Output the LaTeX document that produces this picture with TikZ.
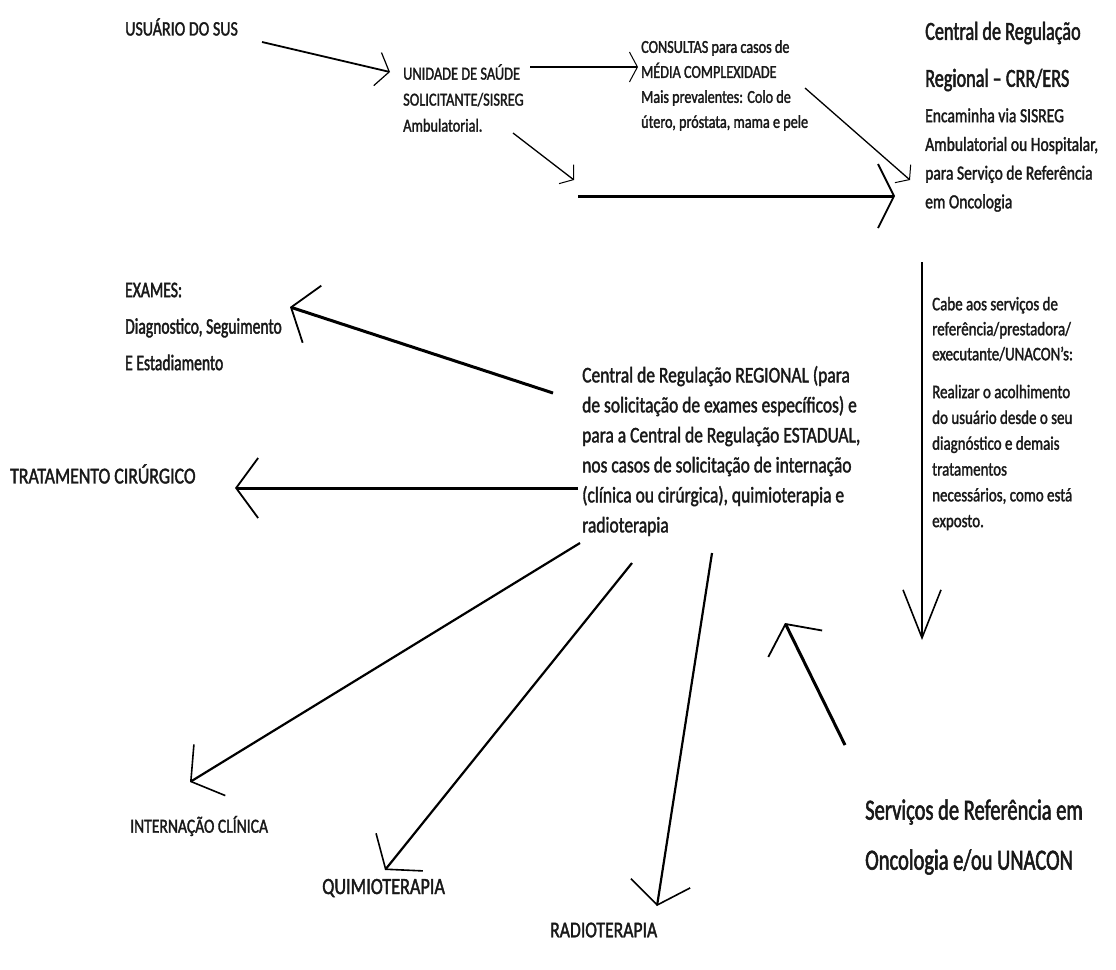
\documentclass[tikz,border=0pt]{standalone}
\usepackage{fontspec}
\setmainfont{Carlito}[FakeStretch=0.78,FakeBold=1.6]
\newfontfamily\condfont{Carlito}[FakeStretch=0.70,FakeBold=1.8]
\usetikzlibrary{arrows.meta}
\newcommand{\fsz}[2]{\fontsize{#1}{#2}\selectfont}
\begin{document}
\begin{tikzpicture}[x=1pt,y=-1pt,
  lbl/.style={inner sep=0pt,anchor=west,align=left,text=black!90},
  thinarr/.style={line width=1.3pt,-{Straight Barb[length=9pt,width=24pt,line width=1pt]}},
  medarr/.style={line width=1.8pt,-{Straight Barb[length=12pt,width=34pt,line width=1.2pt]}},
  bigarr/.style={line width=2.2pt,-{Straight Barb[length=22pt,width=60pt,line width=1.6pt]}},
  heavyarr/.style={line width=3pt,-{Straight Barb[length=22pt,width=60pt,line width=1.8pt]}}
]
\useasboundingbox[fill=white] (0,0) rectangle (1116,969);

% text nodes
\node[lbl,font=\fsz{20.5}{25}] (usuario) at (125,27) {USUÁRIO DO SUS};
\node[lbl,font=\fsz{18.4}{26}] (unidade) at (403,98) {UNIDADE DE SAÚDE\\SOLICITANTE/SISREG\\Ambulatorial.};
\node[lbl,font=\fsz{18.2}{25}] (consultas) at (641,85.5) {CONSULTAS para casos de\\MÉDIA COMPLEXIDADE\\Mais prevalentes: Colo de\\útero, próstata, mama e pele};
\node[lbl,font=\condfont\fsz{26}{47}] (crr) at (925,56.5) {Central de Regulação\\Regional – CRR/ERS};
\node[lbl,font=\fsz{20}{28.7}] (crrb) at (925,160) {Encaminha via SISREG\\Ambulatorial ou Hospitalar,\\para Serviço de Referência\\em Oncologia};
\node[lbl,font=\condfont\fsz{22.3}{36.5}] (exames) at (125,326.5) {EXAMES:\\Diagnostico, Seguimento\\E Estadiamento};
\node[lbl,font=\fsz{22.4}{30}] (central) at (582,451) {Central de Regulação REGIONAL (para\\de solicitação de exames específicos) e\\para a Central de Regulação ESTADUAL,\\nos casos de solicitação de internação\\(clínica ou cirúrgica), quimioterapia e\\radioterapia};
\node[lbl,font=\fsz{19.2}{25}] (cabe) at (932,329) {Cabe aos serviços de\\referência/prestadora/\\executante/UNACON’s:};
\node[lbl,font=\fsz{19.2}{25.8}] (realizar) at (932,457.5) {Realizar o acolhimento\\do usuário desde o seu\\diagnóstico e demais\\tratamentos\\necessários, como está\\exposto.};
\node[lbl,font=\fsz{22.8}{20}] (trat) at (10,474) {TRATAMENTO CIRÚRGICO};
\node[lbl,font=\fsz{20}{20}] (intern) at (130,826) {INTERNAÇÃO CLÍNICA};
\node[lbl,font=\fsz{23.3}{20}] (quimio) at (322,888) {QUIMIOTERAPIA};
\node[lbl,font=\fsz{22.6}{20}] (radio) at (550,930) {RADIOTERAPIA};
\node[lbl,font=\condfont\fsz{29.3}{50}] (servicos) at (865,837) {Serviços de Referência em\\Oncologia e/ou UNACON};

% connector end points
\coordinate (a1s) at (262,42);   \coordinate (a1e) at (390,72);
\coordinate (a2s) at (530,67);   \coordinate (a2e) at (638,67);
\coordinate (a3s) at (805,88);   \coordinate (a3e) at (910,180);
\coordinate (a4s) at (513,133);  \coordinate (a4e) at (574,180);
\coordinate (a5s) at (578,196);  \coordinate (a5e) at (895,196);
\coordinate (exs) at (553,393);  \coordinate (exe) at (290,307);
\coordinate (trs) at (578,488);  \coordinate (tre) at (235,488);
\coordinate (ins) at (580,543);  \coordinate (ine) at (190,782);
\coordinate (qus) at (632,563);  \coordinate (que) at (385,870);
\coordinate (ras) at (712,553);  \coordinate (rae) at (657,906);
\coordinate (ses) at (845,745);  \coordinate (see) at (785,623);
\coordinate (vts) at (922,262);  \coordinate (vte) at (922,640);

% connectors
\draw[medarr] (a1s) -- (a1e);
\draw[line width=1.5pt,-{Straight Barb[length=8pt,width=30pt,line width=1pt]}] (a2s) -- (a2e);
\draw[thinarr] (a3s) -- (a3e);
\draw[thinarr] (a4s) -- (a4e);
\draw[heavyarr,-{Straight Barb[length=16pt,width=64pt,line width=1.8pt]}] (a5s) -- (a5e);
\draw[heavyarr] (exs) -- (exe);
\draw[heavyarr] (trs) -- (tre);
\draw[bigarr] (ins) -- (ine);
\draw[bigarr] (qus) -- (que);
\draw[bigarr] (ras) -- (rae);
\draw[heavyarr] (ses) -- (see);
\draw[bigarr,-{Straight Barb[length=48pt,width=38pt,line width=1.6pt]}] (vts) -- (vte);
\end{tikzpicture}
\end{document}
